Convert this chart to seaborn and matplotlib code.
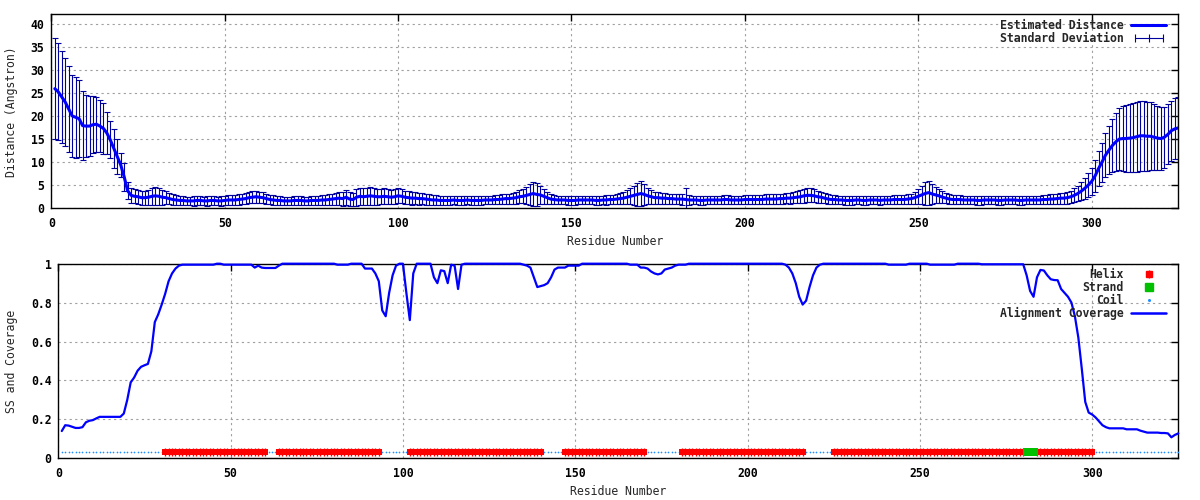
import numpy as np
import matplotlib
matplotlib.use("Agg")
import matplotlib.pyplot as plt
import seaborn as sns
from matplotlib.lines import Line2D
from matplotlib.legend_handler import HandlerLine2D

# ===== Data =====
residues = np.arange(1, 326)

dist_mean = [
    25.9, 25.2, 24.1, 23.0, 21.5, 20.0, 19.7, 19.4, 17.9, 17.8, 17.8, 18.1, 18.2, 17.8, 17.3, 16.3, 14.8, 13.0, 11.2, 9.4, 6.8, 3.8, 2.8, 2.6, 2.5,
    2.3, 2.3, 2.4, 2.6, 2.7, 2.6, 2.4, 2.3, 2.1, 1.9, 1.8, 1.7, 1.7, 1.6, 1.6, 1.6, 1.7, 1.7, 1.6, 1.6, 1.7, 1.7, 1.6, 1.6, 1.7,
    1.8, 1.8, 1.8, 1.9, 2.0, 2.1, 2.3, 2.4, 2.5, 2.4, 2.3, 2.1, 1.9, 1.8, 1.7, 1.7, 1.6, 1.6, 1.6, 1.7, 1.7, 1.7, 1.6, 1.6, 1.7,
    1.7, 1.7, 1.8, 1.8, 1.9, 2.0, 2.1, 2.2, 2.1, 2.4, 2.0, 1.9, 2.4, 2.6, 2.5, 2.6, 2.7, 2.6, 2.5, 2.5, 2.6, 2.5, 2.4, 2.5, 2.7,
    2.6, 2.4, 2.3, 2.2, 2.2, 2.1, 2.1, 2.0, 1.9, 1.8, 1.8, 1.7, 1.7, 1.7, 1.7, 1.8, 1.7, 1.7, 1.7, 1.8, 1.7, 1.7, 1.7, 1.7, 1.8,
    1.8, 1.8, 1.9, 1.9, 2.0, 2.1, 2.1, 2.2, 2.3, 2.5, 2.6, 2.8, 3.0, 3.2, 3.0, 2.9, 2.6, 2.3, 2.0, 1.9, 1.8, 1.8, 1.8, 1.7, 1.7,
    1.7, 1.8, 1.8, 1.8, 1.8, 1.8, 1.7, 1.7, 1.8, 1.8, 1.9, 1.9, 2.0, 2.1, 2.2, 2.4, 2.6, 2.8, 3.0, 3.2, 3.0, 2.7, 2.5, 2.3, 2.3,
    2.2, 2.2, 2.1, 2.1, 2.0, 2.0, 2.0, 1.9, 1.8, 1.8, 1.8, 1.7, 1.7, 1.8, 1.8, 1.8, 1.8, 1.8, 1.9, 1.9, 1.8, 1.8, 1.8, 1.8, 1.9,
    1.9, 1.9, 1.9, 1.9, 1.9, 2.0, 2.0, 2.0, 2.0, 2.1, 2.1, 2.2, 2.2, 2.3, 2.4, 2.5, 2.7, 2.8, 2.8, 2.7, 2.5, 2.4, 2.2, 2.0, 1.9,
    1.9, 1.8, 1.8, 1.7, 1.7, 1.7, 1.8, 1.8, 1.7, 1.7, 1.8, 1.8, 1.8, 1.7, 1.8, 1.8, 1.8, 1.9, 1.9, 1.9, 1.9, 2.0, 2.1, 2.3, 2.6,
    2.9, 3.2, 3.4, 3.1, 2.9, 2.7, 2.4, 2.2, 2.0, 1.9, 1.9, 1.9, 1.8, 1.8, 1.8, 1.8, 1.7, 1.7, 1.8, 1.8, 1.8, 1.8, 1.7, 1.7, 1.8,
    1.8, 1.8, 1.8, 1.7, 1.7, 1.8, 1.8, 1.8, 1.8, 1.8, 1.9, 1.9, 2.0, 2.0, 2.1, 2.2, 2.2, 2.3, 2.5, 2.8, 3.2, 3.7, 4.3, 5.0, 5.8,
    7.0, 8.6, 10.0, 11.5, 12.6, 13.6, 14.4, 15.0, 15.1, 15.1, 15.2, 15.3, 15.5, 15.7, 15.7, 15.6, 15.6, 15.4, 15.2, 15.1, 15.4, 16.0, 16.8, 17.2, 17.4,
]

dist_std = [
    10.9, 10.5, 10.0, 9.6, 9.3, 8.8, 8.8, 8.3, 7.4, 6.7, 6.5, 6.2, 6.0, 5.6, 5.5, 4.5, 4.0, 4.2, 3.8, 2.6, 3.0, 1.8, 1.6, 1.5, 1.5,
    1.5, 1.5, 1.6, 1.8, 1.9, 1.8, 1.6, 1.4, 1.2, 1.1, 1.0, 1.0, 0.9, 0.9, 0.9, 1.0, 1.0, 0.9, 0.9, 1.0, 1.0, 0.9, 0.9, 1.0, 1.0,
    1.0, 1.0, 1.0, 1.1, 1.1, 1.2, 1.2, 1.3, 1.3, 1.2, 1.2, 1.1, 1.0, 1.0, 0.9, 0.9, 0.9, 0.9, 0.9, 0.9, 0.9, 0.9, 0.9, 0.9, 0.9,
    0.9, 0.9, 1.0, 1.0, 1.1, 1.2, 1.3, 1.4, 1.5, 1.6, 1.5, 1.5, 1.8, 1.9, 1.8, 1.9, 2.0, 1.8, 1.7, 1.6, 1.7, 1.6, 1.5, 1.6, 1.6,
    1.5, 1.4, 1.4, 1.4, 1.3, 1.3, 1.2, 1.2, 1.1, 1.0, 1.0, 0.9, 0.9, 0.9, 0.9, 0.9, 0.9, 0.9, 0.9, 0.9, 0.9, 0.9, 0.9, 0.9, 0.9,
    0.9, 0.9, 1.0, 1.0, 1.0, 1.1, 1.1, 1.2, 1.3, 1.4, 1.5, 1.8, 2.2, 2.6, 2.4, 2.0, 1.6, 1.3, 1.1, 1.0, 0.9, 0.9, 0.9, 0.9, 0.9,
    0.9, 0.9, 0.9, 0.9, 0.9, 0.9, 0.9, 0.9, 0.9, 1.0, 1.0, 1.0, 1.1, 1.2, 1.3, 1.5, 1.7, 2.0, 2.4, 2.8, 2.3, 1.8, 1.5, 1.3, 1.3,
    1.2, 1.2, 1.1, 1.1, 1.1, 1.1, 1.2, 2.6, 1.0, 0.9, 0.9, 0.9, 0.9, 0.9, 0.9, 0.9, 0.9, 0.9, 0.9, 0.9, 0.9, 0.9, 0.9, 0.9, 0.9,
    0.9, 0.9, 0.9, 1.0, 1.0, 1.0, 1.0, 1.0, 1.0, 1.1, 1.1, 1.1, 1.2, 1.2, 1.3, 1.4, 1.5, 1.5, 1.5, 1.4, 1.3, 1.2, 1.1, 1.0, 1.0,
    0.9, 0.9, 0.9, 0.9, 0.9, 0.9, 0.9, 0.9, 0.9, 0.9, 0.9, 0.9, 0.9, 0.9, 0.9, 0.9, 0.9, 0.9, 0.9, 0.9, 1.0, 1.0, 1.1, 1.3, 1.6,
    2.0, 2.4, 2.6, 2.2, 1.8, 1.5, 1.3, 1.1, 1.0, 0.9, 0.9, 0.9, 0.9, 0.9, 0.9, 0.9, 0.9, 0.9, 0.9, 0.9, 0.9, 0.9, 0.9, 0.9, 0.9,
    0.9, 0.9, 0.9, 0.9, 0.9, 0.9, 0.9, 0.9, 0.9, 0.9, 0.9, 0.9, 1.0, 1.0, 1.1, 1.2, 1.2, 1.3, 1.3, 1.5, 1.7, 2.0, 2.3, 2.6, 3.0,
    3.4, 3.8, 4.2, 4.7, 5.2, 5.8, 6.3, 6.8, 7.0, 7.2, 7.4, 7.5, 7.6, 7.6, 7.6, 7.5, 7.4, 7.2, 7.0, 6.8, 6.6, 6.5, 6.5, 6.6, 6.8,
]

coverage = [
    0.14, 0.17, 0.168, 0.162, 0.156, 0.156, 0.16, 0.185, 0.193, 0.196, 0.205, 0.213, 0.213, 0.213, 0.213, 0.213, 0.213, 0.213, 0.23, 0.30, 0.39, 0.415, 0.45, 0.47, 0.478,
    0.485, 0.55, 0.70, 0.74, 0.79, 0.845, 0.91, 0.95, 0.975, 0.99, 0.995, 0.995, 0.995, 0.995, 0.995, 0.995, 0.995, 0.995, 0.995, 0.995, 1.0, 1.0, 0.995, 0.995, 0.995,
    0.995, 0.995, 0.995, 0.995, 0.995, 0.995, 0.98, 0.99, 0.98, 0.978, 0.978, 0.978, 0.978, 0.99, 1.0, 1.0, 1.0, 1.0, 1.0, 1.0, 1.0, 1.0, 1.0, 1.0, 1.0,
    1.0, 1.0, 1.0, 1.0, 1.0, 0.995, 0.995, 0.995, 0.995, 1.0, 1.0, 1.0, 1.0, 0.975, 0.975, 0.975, 0.95, 0.91, 0.76, 0.73, 0.85, 0.94, 0.99, 1.0, 1.0,
    0.85, 0.71, 0.95, 1.0, 1.0, 1.0, 1.0, 1.0, 0.93, 0.90, 0.966, 0.962, 0.90, 0.995, 0.99, 0.87, 0.995, 1.0, 1.0, 1.0, 1.0, 1.0, 1.0, 1.0, 1.0,
    1.0, 1.0, 1.0, 1.0, 1.0, 1.0, 1.0, 1.0, 1.0, 0.995, 0.99, 0.98, 0.93, 0.88, 0.885, 0.89, 0.90, 0.93, 0.97, 0.98, 0.98, 0.98, 0.99, 0.99, 0.99,
    0.99, 1.0, 1.0, 1.0, 1.0, 1.0, 1.0, 1.0, 1.0, 1.0, 1.0, 1.0, 1.0, 1.0, 1.0, 0.995, 0.995, 0.995, 0.98, 0.98, 0.975, 0.96, 0.95, 0.945, 0.95,
    0.97, 0.975, 0.98, 0.99, 0.995, 0.995, 0.995, 1.0, 1.0, 1.0, 1.0, 1.0, 1.0, 1.0, 1.0, 1.0, 1.0, 1.0, 1.0, 1.0, 1.0, 1.0, 1.0, 1.0, 1.0,
    1.0, 1.0, 1.0, 1.0, 1.0, 1.0, 1.0, 1.0, 1.0, 1.0, 0.995, 0.98, 0.95, 0.90, 0.83, 0.79, 0.81, 0.88, 0.94, 0.98, 0.995, 1.0, 1.0, 1.0, 1.0,
    1.0, 1.0, 1.0, 1.0, 1.0, 1.0, 1.0, 1.0, 1.0, 1.0, 1.0, 1.0, 1.0, 1.0, 1.0, 0.995, 0.995, 0.995, 0.995, 0.995, 0.995, 1.0, 1.0, 1.0, 1.0,
    1.0, 1.0, 0.995, 0.995, 0.995, 0.995, 0.995, 0.995, 0.995, 0.995, 1.0, 1.0, 1.0, 1.0, 1.0, 1.0, 1.0, 0.997, 0.997, 0.997, 0.997, 0.997, 0.997, 0.997, 0.997,
    0.997, 0.997, 0.997, 0.997, 0.997, 0.94, 0.86, 0.83, 0.93, 0.968, 0.965, 0.94, 0.92, 0.916, 0.915, 0.87, 0.85, 0.83, 0.80, 0.73, 0.62, 0.46, 0.29, 0.235, 0.225,
    0.21, 0.19, 0.17, 0.16, 0.154, 0.154, 0.154, 0.154, 0.154, 0.149, 0.149, 0.149, 0.149, 0.142, 0.137, 0.132, 0.132, 0.132, 0.132, 0.13, 0.13, 0.128, 0.108, 0.12, 0.128,
]

# secondary structure ranges (residue start, residue end)
helix_segments = [(31, 60), (64, 93), (102, 140), (147, 170), (181, 216), (225, 280), (284, 300)]
strand_segments = [(281, 283)]
ss_level = 0.03

helix_x = np.concatenate([np.arange(a, b + 1) for a, b in helix_segments])
strand_x = np.concatenate([np.arange(a, b + 1) for a, b in strand_segments])
coil_x = np.array([r for r in residues if r not in set(helix_x) | set(strand_x)])

# ===== Style =====
sns.set_style("white")
plt.rcParams["font.family"] = ["DejaVu Sans Mono"]
plt.rcParams["font.weight"] = "bold"
plt.rcParams["font.size"] = 8.3

LINE_BLUE = "#0000ff"
ERR_BLUE = "#00009c"
GRID = "#a0a0a0"

fig = plt.figure(figsize=(12, 5), dpi=100)
ax1 = fig.add_axes([0.0428, 0.5834, 0.9391, 0.388])
ax2 = fig.add_axes([0.0486, 0.0834, 0.9333, 0.3892])


def style_axes(ax):
    ax.set_xlim(0, 325)
    ax.set_xticks([0, 50, 100, 150, 200, 250, 300])
    ax.grid(True, color=GRID, linestyle=(0, (2, 3)), linewidth=0.8)
    ax.set_axisbelow(True)
    ax.tick_params(direction="in", length=5, width=1, top=True, right=True,
                   labelsize=8.3, colors="black")
    ax.tick_params(axis="y", pad=5)
    ax.tick_params(axis="x", pad=6)
    for s in ax.spines.values():
        s.set_color("black")
        s.set_linewidth(1.0)
        s.set_visible(True)


# ===== 1. Estimated distance with standard deviation =====
ax1.errorbar(residues, dist_mean, yerr=dist_std, fmt="none", ecolor=ERR_BLUE,
             elinewidth=0.8, capsize=2.2, capthick=0.8, zorder=2)
sns.lineplot(x=residues, y=dist_mean, ax=ax1, color=LINE_BLUE, linewidth=2.2,
             estimator=None, zorder=3)
style_axes(ax1)
ax1.set_ylim(0, 42)
ax1.set_yticks(range(0, 41, 5))
ax1.set_ylabel("Distance (Angstron)", fontsize=8.3)
ax1.set_xlabel("Residue Number", fontsize=8.3)
ax1.yaxis.set_label_coords(-0.0295, 0.5)
ax1.xaxis.set_label_coords(0.5, -0.138)

h_mean = Line2D([], [], color=LINE_BLUE, linewidth=2.2)
h_std = Line2D([], [], color=ERR_BLUE, linewidth=0.8, marker="|",
               markersize=6, markeredgewidth=0.8)
ax1.legend([h_mean, h_std], ["Estimated Distance", "Standard Deviation"],
           handler_map={h_std: HandlerLine2D(numpoints=3)},
           loc="upper right", bbox_to_anchor=(1166 / 1200, 1 - 19 / 500),
           bbox_transform=fig.transFigure, frameon=False, markerfirst=False,
           handlelength=3.0, handletextpad=0.7, labelspacing=0.0,
           borderpad=0, borderaxespad=0, fontsize=8.3)

# ===== 2. Secondary structure and alignment coverage =====
sns.scatterplot(x=coil_x, y=np.full(len(coil_x), ss_level), ax=ax2,
                color="#1f8fff", marker="o", s=1.5, linewidth=0, zorder=3)
sns.scatterplot(x=helix_x, y=np.full(len(helix_x), ss_level), ax=ax2,
                color="#ff0000", marker="s", s=19, linewidth=0, zorder=3)
sns.scatterplot(x=helix_x, y=np.full(len(helix_x), ss_level), ax=ax2,
                color="#ff0000", marker="|", s=30, linewidth=1.0, zorder=3)
sns.scatterplot(x=strand_x, y=np.full(len(strand_x), ss_level), ax=ax2,
                color="#00c000", marker="s", s=26, linewidth=0, zorder=4)
sns.lineplot(x=residues, y=coverage, ax=ax2, color=LINE_BLUE, linewidth=1.6,
             estimator=None, clip_on=False, zorder=5)
style_axes(ax2)
ax2.set_ylim(0, 1)
ax2.set_yticks([0, 0.2, 0.4, 0.6, 0.8, 1.0])
ax2.set_yticklabels(["0", "0.2", "0.4", "0.6", "0.8", "1"])
ax2.set_ylabel("SS and Coverage", fontsize=8.3)
ax2.set_xlabel("Residue Number", fontsize=8.3)
ax2.yaxis.set_label_coords(-0.0358, 0.5)
ax2.xaxis.set_label_coords(0.5, -0.138)

h_helix = (Line2D([], [], color="#ff0000", marker="s", markersize=4.4, linestyle="none"),
           Line2D([], [], color="#ff0000", marker="|", markersize=5.5, markeredgewidth=1.0, linestyle="none"))
h_strand = Line2D([], [], color="#00c000", marker="s", markersize=5.2, linestyle="none")
h_coil = Line2D([], [], color="#1f8fff", marker="o", markersize=1.2, linestyle="none")
h_cov = Line2D([], [], color=LINE_BLUE, linewidth=1.8)
ax2.legend([h_helix, h_strand, h_coil, h_cov],
           ["Helix", "Strand", "Coil", "Alignment Coverage"],
           loc="upper right", bbox_to_anchor=(1166 / 1200, 1 - 268 / 500),
           bbox_transform=fig.transFigure, frameon=False, markerfirst=False,
           handlelength=3.0, handletextpad=0.7, labelspacing=0.0,
           borderpad=0, borderaxespad=0, fontsize=8.3)

fig.savefig("out.png", dpi=100)
